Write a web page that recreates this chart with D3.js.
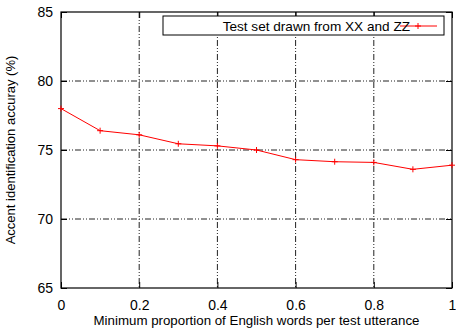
<!DOCTYPE html>
<html>
<head>
<meta charset="utf-8">
<script src="https://cdn.jsdelivr.net/npm/d3@7"></script>
<style>
  body { margin: 0; background: #fff; }
  text { font-family: "Liberation Sans", Arial, sans-serif; fill: #000; }
</style>
</head>
<body>
<div id="chart"></div>
<script>
// proportion of English words (x) vs accent id accuracy (y)
const proportions = [0, 0.1, 0.2, 0.3, 0.4, 0.5, 0.6, 0.7, 0.8, 0.9, 1.0];
const accuracy = [78.0, 76.4, 76.1, 75.45, 75.3, 75.0, 74.3, 74.15, 74.1, 73.6, 73.9];
const xTicks = [0, 0.2, 0.4, 0.6, 0.8, 1];
const yTicks = [65, 70, 75, 80, 85];
const seriesName = "Test set drawn from XX and ZZ";

var margin = {top: 12, right: 4, bottom: 40, left: 61};
var width = 456 - margin.left - margin.right;
var height = 328 - margin.top - margin.bottom;

var x = d3.scaleLinear().domain([0, 1]).range([0, width]);
var y = d3.scaleLinear().domain([65, 85]).range([height, 0]);

var svg = d3.select("#chart").append("svg")
    .attr("width", 456)
    .attr("height", 328)
  .append("g")
    .attr("transform", "translate(" + margin.left + "," + margin.top + ")");

// grid lines (dash-dot-dot)
var gridDash = "6,2,1,2,1,2";
svg.append("g").selectAll("line")
    .data(xTicks.filter(d => d > 0 && d < 1))
    .enter().append("line")
      .attr("x1", d => x(d)).attr("x2", d => x(d))
      .attr("y1", 0).attr("y2", height)
      .attr("stroke", "#222").attr("stroke-width", 1)
      .attr("stroke-dasharray", gridDash);
svg.append("g").selectAll("line")
    .data(yTicks.filter(d => d > 65 && d < 85))
    .enter().append("line")
      .attr("x1", 0).attr("x2", width)
      .attr("y1", d => y(d)).attr("y2", d => y(d))
      .attr("stroke", "#222").attr("stroke-width", 1)
      .attr("stroke-dasharray", gridDash);

// axes: ticks point inward, mirrored on top/right
var xAxis = d3.axisBottom(x).tickValues(xTicks).tickSize(-6).tickPadding(12)
    .tickFormat(d3.format("~g"));
var yAxis = d3.axisLeft(y).tickValues(yTicks).tickSize(-6).tickPadding(8);

var gx = svg.append("g").attr("transform", "translate(0," + height + ")").call(xAxis);
var gy = svg.append("g").call(yAxis);
svg.append("g").call(d3.axisTop(x).tickValues(xTicks).tickSize(-6).tickFormat(""));
svg.append("g").attr("transform", "translate(" + width + ",0)")
    .call(d3.axisRight(y).tickValues(yTicks).tickSize(-6).tickFormat(""));

svg.selectAll(".domain").remove();
svg.selectAll(".tick line").attr("stroke", "#000");
gx.selectAll("text").style("font-size", "14px");
gy.selectAll("text").style("font-size", "14px").attr("dy", "0.35em");

// frame
svg.append("rect")
    .attr("width", width).attr("height", height)
    .attr("fill", "none").attr("stroke", "#000").attr("stroke-width", 1.2);

// data line
var line = d3.line()
    .x((d, i) => x(proportions[i]))
    .y(d => y(d));

svg.append("path")
    .datum(accuracy)
    .attr("fill", "none")
    .attr("stroke", "#ff0000")
    .attr("stroke-width", 1)
    .attr("d", line);

svg.selectAll(".pt")
    .data(accuracy)
    .enter().append("path")
      .attr("class", "pt")
      .attr("fill", "none")
      .attr("stroke", "#ff0000")
      .attr("stroke-width", 1)
      .attr("d", "M-3,0H3M0,-3V3")
      .attr("transform", (d, i) => "translate(" + x(proportions[i]) + "," + y(d) + ")");

// legend
var legend = svg.append("g").attr("transform", "translate(" + (163 - margin.left) + "," + (16 - margin.top) + ")");
legend.append("rect")
    .attr("width", 281).attr("height", 19)
    .attr("fill", "#fff").attr("stroke", "#000").attr("stroke-width", 1);
legend.append("line")
    .attr("x1", 237).attr("x2", 274).attr("y1", 10).attr("y2", 10)
    .attr("stroke", "#ff0000").attr("stroke-width", 1);
legend.append("path")
    .attr("d", "M-3,0H3M0,-3V3")
    .attr("transform", "translate(255,10)")
    .attr("stroke", "#ff0000").attr("fill", "none");
legend.append("text")
    .attr("x", 247).attr("y", 10).attr("dy", "0.35em")
    .attr("text-anchor", "end")
    .style("font-size", "13.6px")
    .text(seriesName);

// axis titles
svg.append("text")
    .attr("x", width / 2).attr("y", height + 37)
    .attr("text-anchor", "middle")
    .style("font-size", "13.3px")
    .text("Minimum proportion of English words per test utterance");

svg.append("text")
    .attr("transform", "rotate(-90)")
    .attr("x", -height / 2).attr("y", -46)
    .attr("text-anchor", "middle")
    .style("font-size", "13px")
    .text("Accent identification accuray (%)");
</script>
</body>
</html>
